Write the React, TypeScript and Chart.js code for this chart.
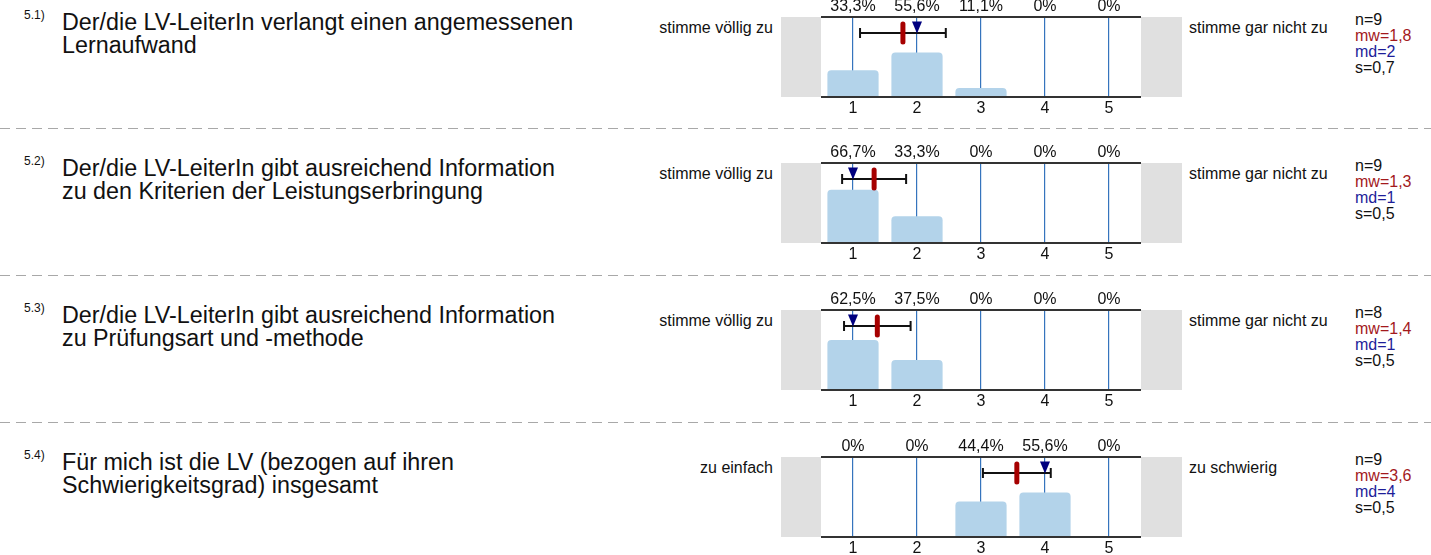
import React, { useEffect, useRef } from 'react';
import { Chart, registerables } from 'chart.js';

Chart.register(...registerables);

const FONT = '"Liberation Sans", Arial, sans-serif';

const scaleLabels = ['1', '2', '3', '4', '5'];
const itemNumbers = ['5.1)', '5.2)', '5.3)', '5.4)'];
const questionLines = [
  ['Der/die LV-LeiterIn verlangt einen angemessenen', 'Lernaufwand'],
  ['Der/die LV-LeiterIn gibt ausreichend Information', 'zu den Kriterien der Leistungserbringung'],
  ['Der/die LV-LeiterIn gibt ausreichend Information', 'zu Prüfungsart und -methode'],
  ['Für mich ist die LV (bezogen auf ihren', 'Schwierigkeitsgrad) insgesamt'],
];
const leftLabels = ['stimme völlig zu', 'stimme völlig zu', 'stimme völlig zu', 'zu einfach'];
const rightLabels = ['stimme gar nicht zu', 'stimme gar nicht zu', 'stimme gar nicht zu', 'zu schwierig'];

const percents51 = [33.3, 55.6, 11.1, 0, 0];
const percents52 = [66.7, 33.3, 0, 0, 0];
const percents53 = [62.5, 37.5, 0, 0, 0];
const percents54 = [0, 0, 44.4, 55.6, 0];
const percentRows = [percents51, percents52, percents53, percents54];

const nValues = [9, 9, 8, 9];
const meanValues = [1.78, 1.33, 1.38, 3.56];
const medianValues = [2, 1, 1, 4];
const sdValues = [0.67, 0.5, 0.52, 0.53];

const rowTops = [17, 163, 310, 457];

const fmt = (v: number) => v.toFixed(1).replace('.', ',');
const pctLabel = (v: number) => (v === 0 ? '0%' : fmt(v) + '%');

function makeOverlay(i: number) {
  return {
    id: 'overlay' + i,
    beforeDraw(chart: any) {
      const { ctx, chartArea: a } = chart;
      ctx.save();
      ctx.fillStyle = '#e0e0e0';
      ctx.fillRect(a.left - 40, a.top, 40, a.bottom - a.top);
      ctx.fillRect(a.right, a.top, 41, a.bottom - a.top);
      ctx.restore();
    },
    afterDraw(chart: any) {
      const { ctx, chartArea: a } = chart;
      const xs = chart.scales.x;
      ctx.save();
      ctx.strokeStyle = '#333333';
      ctx.lineWidth = 2;
      ctx.beginPath();
      ctx.moveTo(a.left, a.top);
      ctx.lineTo(a.right, a.top);
      ctx.moveTo(a.left, a.bottom);
      ctx.lineTo(a.right, a.bottom);
      ctx.stroke();

      const ey = a.top + 16;
      const m = meanValues[i];
      const s = sdValues[i];
      const x0 = xs.getPixelForValue(m - s - 1);
      const x1 = xs.getPixelForValue(m + s - 1);
      ctx.strokeStyle = '#111111';
      ctx.lineWidth = 2;
      ctx.beginPath();
      ctx.moveTo(x0, ey);
      ctx.lineTo(x1, ey);
      ctx.moveTo(x0, ey - 5);
      ctx.lineTo(x0, ey + 5);
      ctx.moveTo(x1, ey - 5);
      ctx.lineTo(x1, ey + 5);
      ctx.stroke();

      const xm = xs.getPixelForValue(m - 1);
      ctx.fillStyle = '#a60000';
      ctx.beginPath();
      (ctx as any).roundRect(xm - 2.5, ey - 11.5, 5, 23, 2.5);
      ctx.fill();

      const xd = xs.getPixelForValue(medianValues[i] - 1);
      ctx.fillStyle = '#00007f';
      ctx.beginPath();
      ctx.moveTo(xd - 5, ey - 11.5);
      ctx.lineTo(xd + 5, ey - 11.5);
      ctx.lineTo(xd, ey + 0.5);
      ctx.closePath();
      ctx.fill();
      ctx.restore();
    },
  };
}

function RowChart({ i }: { i: number }) {
  const ref = useRef<HTMLCanvasElement>(null);
  useEffect(() => {
    const font = { family: FONT, size: 16 };
    const chart = new Chart(ref.current as HTMLCanvasElement, {
      type: 'bar',
      data: {
        labels: scaleLabels,
        datasets: [
          {
            data: percentRows[i],
            backgroundColor: '#b3d3ea',
            borderRadius: 4,
            barPercentage: 0.8,
            categoryPercentage: 1,
            xAxisID: 'x',
            yAxisID: 'y',
          },
        ],
      },
      options: {
        responsive: false,
        animation: false,
        layout: { padding: { left: 40, right: 42, top: 0, bottom: 0 } },
        plugins: { legend: { display: false }, tooltip: { enabled: false } },
        scales: {
          x: {
            type: 'category',
            position: 'bottom',
            offset: true,
            z: 1,
            grid: { offset: false, color: '#3574bd', lineWidth: 1.2, drawTicks: false },
            border: { display: false },
            ticks: { font, color: '#111111', padding: 2, maxRotation: 0 },
            afterFit: (s: any) => {
              s.height = 22;
            },
          },
          xTop: {
            type: 'category',
            position: 'top',
            labels: percentRows[i].map(pctLabel),
            offset: true,
            grid: { display: false, drawTicks: false },
            border: { display: false },
            ticks: { font, color: '#111111', padding: 1, maxRotation: 0 },
            afterFit: (s: any) => {
              s.height = 22;
            },
          },
          y: { display: false, min: 0, max: 100 },
        },
      } as any,
      plugins: [makeOverlay(i)],
    });
    return () => chart.destroy();
  }, [i]);
  return (
    <canvas
      ref={ref}
      width={402}
      height={124}
      style={{ position: 'absolute', left: 781, top: rowTops[i] - 22, width: 402, height: 124 }}
    />
  );
}

function Row({ i }: { i: number }) {
  const t = rowTops[i];
  return (
    <>
      {i > 0 && (
        <div
          style={{
            position: 'absolute',
            left: 0,
            top: t - 35,
            width: 1431,
            height: 1,
            background: 'repeating-linear-gradient(to right, #a8a8a8 0px, #a8a8a8 10px, transparent 10px, transparent 16px)',
          }}
        />
      )}
      <div style={{ position: 'absolute', left: 24, top: t - 9, fontSize: 12, lineHeight: '14px', color: '#111' }}>
        {itemNumbers[i]}
      </div>
      <div style={{ position: 'absolute', left: 62, top: t - 6, fontSize: 23.3, lineHeight: '23px', color: '#111', whiteSpace: 'nowrap' }}>
        {questionLines[i][0]}
        <br />
        {questionLines[i][1]}
      </div>
      <div
        style={{ position: 'absolute', right: 1431 - 773, top: t + 3, fontSize: 16, lineHeight: '16px', color: '#111', whiteSpace: 'nowrap', textAlign: 'right' }}
      >
        {leftLabels[i]}
      </div>
      <div style={{ position: 'absolute', left: 1189, top: t + 3, fontSize: 16, lineHeight: '16px', color: '#111', whiteSpace: 'nowrap' }}>
        {rightLabels[i]}
      </div>
      <div style={{ position: 'absolute', left: 1355, top: t - 5, fontSize: 16, lineHeight: '16px', whiteSpace: 'nowrap' }}>
        <div style={{ color: '#111' }}>n={nValues[i]}</div>
        <div style={{ color: '#a3191c' }}>mw={fmt(meanValues[i])}</div>
        <div style={{ color: '#1d1d99' }}>md={medianValues[i]}</div>
        <div style={{ color: '#111' }}>s={fmt(sdValues[i])}</div>
      </div>
      <RowChart i={i} />
    </>
  );
}

export default function App() {
  return (
    <div
      style={{
        position: 'absolute',
        left: 0,
        top: 0,
        width: 1431,
        height: 555,
        overflow: 'hidden',
        background: '#ffffff',
        fontFamily: FONT,
      }}
    >
      {rowTops.map((_, i) => (
        <Row key={i} i={i} />
      ))}
    </div>
  );
}
